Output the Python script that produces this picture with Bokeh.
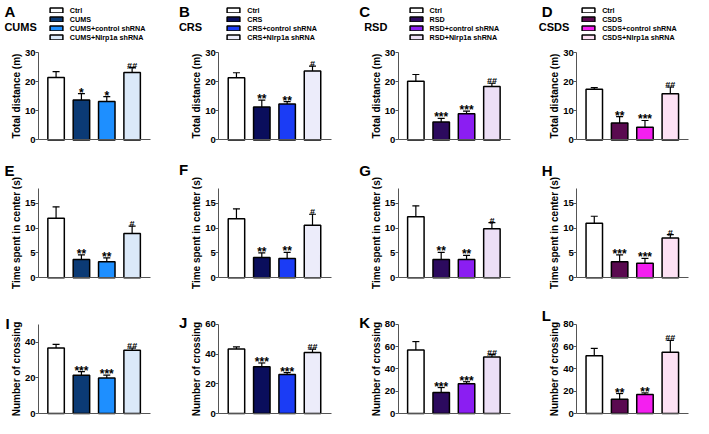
from bokeh.plotting import figure
from bokeh.models import (ColumnDataSource, Range1d, FixedTicker, LinearAxis,
                          Legend, LegendItem, Label)
from bokeh.embed import file_html
from bokeh.resources import INLINE
from bokeh.core.properties import value

FONT = "Liberation Sans"

# ---------------- data ----------------
models = ["CUMS", "CRS", "RSD", "CSDS"]
group_templates = ["Ctrl", "{m}", "{m}+control shRNA", "{m}+Nlrp1a shRNA"]
panel_letters = [["A", "B", "C", "D"], ["E", "F", "G", "H"], ["I", "J", "K", "L"]]
row_ylabels = ["Total distance (m)", "Time spent in center (s)", "Number of crossing"]

# Total distance (m)
distance_cums = [21.5, 13.7, 13.2, 23.2]
distance_cums_sem = [2.0, 2.2, 1.7, 1.7]
distance_crs = [21.4, 11.3, 12.4, 23.7]
distance_crs_sem = [1.7, 2.4, 0.8, 1.7]
distance_rsd = [20.2, 6.2, 9.0, 18.4]
distance_rsd_sem = [2.3, 1.2, 0.9, 1.1]
distance_csds = [17.4, 5.8, 4.4, 15.9]
distance_csds_sem = [0.6, 2.2, 2.3, 2.3]

# Time spent in center (s)
center_cums = [12.0, 3.7, 3.2, 8.9]
center_cums_sem = [2.3, 0.9, 0.8, 1.5]
center_crs = [11.9, 4.1, 3.9, 10.6]
center_crs_sem = [2.0, 0.9, 1.2, 2.2]
center_rsd = [12.3, 3.7, 3.7, 9.9]
center_rsd_sem = [2.2, 1.4, 0.8, 1.2]
center_csds = [11.0, 3.2, 2.9, 8.0]
center_csds_sem = [1.4, 1.4, 1.0, 0.7]

# Number of crossing
crossing_cums = [36.7, 21.5, 19.9, 35.5]
crossing_cums_sem = [2.0, 2.0, 1.6, 1.2]
crossing_crs = [43.3, 31.4, 26.2, 41.1]
crossing_crs_sem = [1.5, 2.6, 1.3, 2.2]
crossing_rsd = [57.0, 18.9, 26.7, 50.6]
crossing_rsd_sem = [7.5, 4.4, 1.8, 2.3]
crossing_csds = [51.7, 12.7, 17.1, 54.9]
crossing_csds_sem = [6.7, 5.2, 1.4, 10.7]

# significance marks
sig_distance = [["", "*", "*", "##"], ["", "**", "**", "#"],
                ["", "***", "***", "##"], ["", "**", "***", "##"]]
sig_center = [["", "**", "**", "#"], ["", "**", "**", "#"],
              ["", "**", "**", "#"], ["", "***", "***", "#"]]
sig_crossing = [["", "***", "***", "##"], ["", "***", "***", "##"],
                ["", "***", "***", "##"], ["", "**", "**", "##"]]

# axis ranges / ticks
ymax_distance = [30, 30, 30, 30]
ticks_distance = [0, 10, 20, 30]
ymax_center = [18, 18, 18, 18]
ticks_center = [0, 5, 10, 15]
ymax_crossing = [50, 60, 80, 80]
ticks_crossing = [[0, 20, 40], [0, 20, 40, 60], [0, 20, 40, 60, 80], [0, 20, 40, 60, 80]]

# colours
colors_cums = ["#ffffff", "#0b3a75", "#1e8fff", "#dbe9f9"]
colors_crs = ["#ffffff", "#0a0e5c", "#1b3cf5", "#ececfa"]
colors_rsd = ["#ffffff", "#2c0a5e", "#8b1ef2", "#ecdff6"]
colors_csds = ["#ffffff", "#5a0a50", "#f41ff0", "#fde1f4"]

# ---------------- layout (reference pixel positions, scaled to page) ----------------
W, H = 693, 418
SX, X0 = 0.975, -1.0
SY, Y0 = 0.970, 3.2


def tx(x):
    return (x - X0) * SX


def ty(y):
    return (y - Y0) * SY


col_axis_ref = [38, 223, 407, 590]
bar_offset_ref = 18.0
bar_step_ref = 26.0
axis_len_ref = 115.0
row_zero_ref = [147, 289, 429]
row_top_ref = [57, 197, 337]

letter_x_ref = [[3, 182, 367, 554], [3, 182, 367, 554], [4, 182, 367, 554]]
letter_base_ref = [[15, 15, 15, 15], [178, 177, 178, 178], [336, 335, 335, 328]]
title_x_ref = [3, 182, 372, 551]
title_base_ref = 31
legend_x_ref = [48, 230, 417, 594]
legend_bottom_ref = 46

AXIS_GREY = "#555555"

p = figure(width=W, height=H, x_range=Range1d(0, W), y_range=Range1d(H, 0),
           x_axis_type=None, y_axis_type=None, output_backend="svg",
           toolbar_location=None, min_border=0)
p.min_border_left = 0
p.min_border_right = 0
p.min_border_top = 0
p.min_border_bottom = 0
p.outline_line_color = None
p.background_fill_color = "white"
p.border_fill_color = "white"

x_start = 1.0 - bar_offset_ref / bar_step_ref
x_end = x_start + axis_len_ref / bar_step_ref
unit_px = bar_step_ref * SX


def add_panel(r, c, means, sems, sigs, colors, ymax, ticks):
    xname = f"x{r}{c}"
    yname = f"y{r}{c}"
    ax_px = tx(col_axis_ref[c])
    xs_start = x_start - ax_px / unit_px
    p.extra_x_ranges[xname] = Range1d(xs_start, xs_start + W / unit_px)
    y0 = ty(row_zero_ref[r])
    y1 = ty(row_top_ref[r])
    ppu = (y0 - y1) / ymax
    p.extra_y_ranges[yname] = Range1d(-(H - y0) / ppu, ymax + y1 / ppu)

    xs = [i + 1 for i in range(len(means))]
    upper = [m + s for m, s in zip(means, sems)]
    src = ColumnDataSource(dict(x=xs, top=means, upper=upper, color=colors))
    kw = dict(x_range_name=xname, y_range_name=yname)
    bars = p.vbar(x="x", top="top", width=0.65, source=src, fill_color="color",
                  line_color="black", line_width=1.5, **kw)
    p.segment(x0="x", y0="top", x1="x", y1="upper", source=src,
              line_color="black", line_width=1.2, **kw)
    p.scatter(x="x", y="upper", marker="dash", size=7, source=src,
              line_color="black", line_width=1.2, **kw)

    star = [(x, u, s) for x, u, s in zip(xs, upper, sigs) if s.startswith("*")]
    hsh = [(x, u, s) for x, u, s in zip(xs, upper, sigs) if s.startswith("#")]
    if star:
        p.text(x=[t[0] for t in star], y=[t[1] for t in star], text=[t[2] for t in star],
               text_align="center", text_baseline="alphabetic", y_offset=-1,
               text_font=value(FONT), text_font_style="bold",
               text_font_size="12px", text_color="black", **kw)
    if hsh:
        p.text(x=[t[0] for t in hsh], y=[t[1] for t in hsh], text=[t[2] for t in hsh],
               text_align="center", text_baseline="alphabetic", y_offset=-2,
               text_font=value(FONT), text_font_style="bold",
               text_font_size="9px", text_color="black", **kw)

    # y axis, drawn at the panel's own position
    yax = LinearAxis(x_range_name=xname, y_range_name=yname, fixed_location=x_start,
                     bounds=(0, ymax), ticker=FixedTicker(ticks=ticks))
    yax.minor_tick_line_color = None
    yax.major_tick_in = 0
    yax.major_tick_out = 3
    yax.axis_line_color = AXIS_GREY
    yax.major_tick_line_color = AXIS_GREY
    yax.major_label_text_font = FONT
    yax.major_label_text_font_style = "bold"
    yax.major_label_text_font_size = "9.5px"
    yax.major_label_text_color = "black"
    yax.major_label_standoff = 0
    yax.axis_label = row_ylabels[r]
    yax.axis_label_text_font = FONT
    yax.axis_label_text_font_style = "bold"
    yax.axis_label_text_font_size = "10px"
    yax.axis_label_text_color = "black"
    yax.axis_label_standoff = 0
    p.add_layout(yax, "left")

    xax = LinearAxis(x_range_name=xname, y_range_name=yname, fixed_location=0,
                     bounds=(x_start, x_end), ticker=FixedTicker(ticks=[]))
    xax.major_tick_line_color = None
    xax.minor_tick_line_color = None
    xax.axis_line_color = AXIS_GREY
    xax.major_label_text_font_size = "1px"
    p.add_layout(xax, "below")

    # panel letter
    p.add_layout(Label(x=tx(letter_x_ref[r][c]), y=ty(letter_base_ref[r][c]),
                       text=panel_letters[r][c], text_font=FONT, text_font_style="bold",
                       text_font_size="15px", text_baseline="alphabetic",
                       text_color="black"))

    if r == 0:
        m = models[c]
        p.add_layout(Label(x=tx(title_x_ref[c]), y=ty(title_base_ref), text=m,
                           text_font=FONT, text_font_style="bold", text_font_size="11px",
                           text_baseline="alphabetic", text_color="black"))
        labels = [t.format(m=m) for t in group_templates]
        items = [LegendItem(label=lab, renderers=[bars], index=i)
                 for i, lab in enumerate(labels)]
        leg = Legend(items=items,
                     location=(tx(legend_x_ref[c]), H - ty(legend_bottom_ref)),
                     label_text_font=FONT, label_text_font_style="bold",
                     label_text_font_size="7.2px", label_text_color="black",
                     glyph_width=16, glyph_height=6, label_height=7, label_standoff=6,
                     spacing=0, padding=0, margin=0, border_line_color=None,
                     background_fill_alpha=0)
        p.add_layout(leg)


dist_m = [distance_cums, distance_crs, distance_rsd, distance_csds]
dist_s = [distance_cums_sem, distance_crs_sem, distance_rsd_sem, distance_csds_sem]
cent_m = [center_cums, center_crs, center_rsd, center_csds]
cent_s = [center_cums_sem, center_crs_sem, center_rsd_sem, center_csds_sem]
cross_m = [crossing_cums, crossing_crs, crossing_rsd, crossing_csds]
cross_s = [crossing_cums_sem, crossing_crs_sem, crossing_rsd_sem, crossing_csds_sem]
cols = [colors_cums, colors_crs, colors_rsd, colors_csds]

for c in range(4):
    add_panel(0, c, dist_m[c], dist_s[c], sig_distance[c], cols[c],
              ymax_distance[c], ticks_distance)
    add_panel(1, c, cent_m[c], cent_s[c], sig_center[c], cols[c],
              ymax_center[c], ticks_center)
    add_panel(2, c, cross_m[c], cross_s[c], sig_crossing[c], cols[c],
              ymax_crossing[c], ticks_crossing[c])

open("out.html", "w").write(file_html(p, INLINE))
